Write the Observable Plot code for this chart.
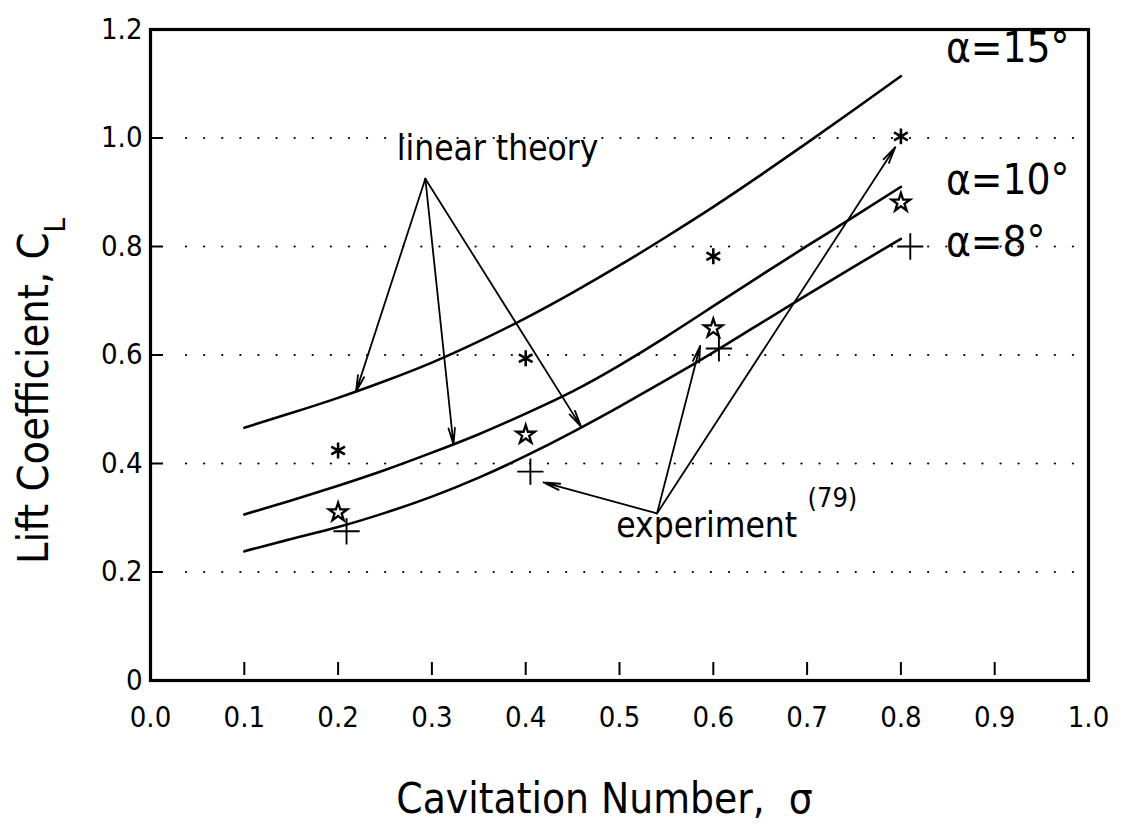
<!DOCTYPE html>
<html><head><meta charset="utf-8">
<script src="https://cdn.jsdelivr.net/npm/d3@7"></script>
<script src="https://cdn.jsdelivr.net/npm/@observablehq/plot@0.6"></script>
<style>
body{margin:0;background:#fff;}
#chart svg{display:block;}
</style>
</head><body><div id="chart"></div>
<script>
// ---- data ----
const sigma = [0.10,0.15,0.20,0.25,0.30,0.35,0.40,0.45,0.50,0.55,0.60,0.65,0.70,0.75,0.80];
const clAlpha15 = [0.466,0.493,0.521,0.552,0.586,0.625,0.668,0.715,0.765,0.818,0.873,0.931,0.991,1.052,1.114];
const clAlpha10 = [0.306,0.332,0.359,0.388,0.420,0.454,0.492,0.533,0.581,0.634,0.690,0.746,0.801,0.855,0.910];
const clAlpha8  = [0.238,0.261,0.283,0.309,0.339,0.374,0.414,0.458,0.505,0.554,0.605,0.658,0.711,0.763,0.814];
const seriesNames = ["α=15°","α=10°","α=8°"];

const expSigma15 = [0.20,0.40,0.60,0.80];
const expCl15    = [0.424,0.594,0.782,1.003];
const expSigma10 = [0.20,0.40,0.60,0.80];
const expCl10    = [0.310,0.453,0.649,0.881];
const expSigma8  = [0.209,0.405,0.606,0.810];
const expCl8     = [0.275,0.385,0.612,0.800];

const xTicks = [0,0.1,0.2,0.3,0.4,0.5,0.6,0.7,0.8,0.9,1.0];
const xTickLabels = ["0.0","0.1","0.2","0.3","0.4","0.5","0.6","0.7","0.8","0.9","1.0"];
const yTicks = [0,0.2,0.4,0.6,0.8,1.0,1.2];
const yTickLabels = ["0","0.2","0.4","0.6","0.8","1.0","1.2"];
const gridValues = [0.2,0.4,0.6,0.8,1.0];

const curveLabelSigma = [0.848,0.848,0.848];
const curveLabelCl = [1.165,0.922,0.808];

const theoryLabel = "linear theory";
const theoryLabelPos = [0.37,0.98];
const theoryFrom = [0.293,0.925];
const theoryToSigma = [0.219,0.323,0.459];
const theoryToCl = [0.532,0.435,0.468];

const expLabel = "experiment";
const expLabelPos = [0.593,0.285];
const expRefLabel = "(79)";
const expRefPos = [0.727,0.336];
const expFrom = [0.540,0.308];
const expToSigma = [0.419,0.586,0.794];
const expToCl = [0.365,0.617,0.983];

const xTitle = "Cavitation Number,  σ";
const yTitle = "Lift Coefficient, C";
const yTitleSub = "L";

// ---- tables ----
const curveRows = [clAlpha15, clAlpha10, clAlpha8].flatMap((arr, k) =>
  arr.map((v, i) => ({sigma: sigma[i], cl: v, series: seriesNames[k]})));
const mk = (xs, ys) => xs.map((x, i) => ({sigma: x, cl: ys[i]}));
const exp15 = mk(expSigma15, expCl15), exp10 = mk(expSigma10, expCl10), exp8 = mk(expSigma8, expCl8);
const theoryArrows = theoryToSigma.map((s, i) => ({x1: theoryFrom[0], y1: theoryFrom[1], x2: s, y2: theoryToCl[i]}));
const expArrows = expToSigma.map((s, i) => ({x1: expFrom[0], y1: expFrom[1], x2: s, y2: expToCl[i]}));
const curveLabelRows = seriesNames.map((n, i) => ({label: n, sigma: curveLabelSigma[i], cl: curveLabelCl[i]}));

const font = '"Liberation Sans Narrow","DejaVu Sans Condensed","Liberation Sans",sans-serif';

const chart = Plot.plot({
  width: 1126, height: 826,
  marginLeft: 150, marginRight: 38, marginTop: 29, marginBottom: 146,
  style: {fontFamily: font, color: "#000", background: "#fff", overflow: "visible"},
  x: {domain: [0, 1]},
  y: {domain: [0, 1.2]},
  marks: [
    Plot.gridY(gridValues, {stroke: "#000", strokeOpacity: 1, strokeWidth: 2.2, strokeDasharray: "0.1 18", strokeLinecap: "round", insetLeft: 36, insetRight: 14}),
    // tick labels
    Plot.axisX(xTicks, {tickSize: 0, tickPadding: 26, tickFormat: d => xTickLabels[xTicks.indexOf(d)], fontSize: 29, label: null}),
    Plot.axisY(yTicks, {tickSize: 0, tickPadding: 8, tickFormat: d => yTickLabels[yTicks.indexOf(d)], fontSize: 29, label: null}),
    // inward ticks
    Plot.axisX(xTicks.slice(1, -1), {tickSize: 13, dy: -18, strokeWidth: 2, tickFormat: () => "", label: null}),
    Plot.axisY(yTicks.slice(1, -1), {tickSize: 13, dx: 13, strokeWidth: 2, tickFormat: () => "", label: null}),
    Plot.frame({stroke: "#000", strokeWidth: 3.2}),
    // theory curves
    Plot.line(curveRows, {x: "sigma", y: "cl", z: "series", curve: "natural", stroke: "#000", strokeWidth: 2.6}),
    // arrows
    Plot.arrow(theoryArrows, {x1: "x1", y1: "y1", x2: "x2", y2: "y2", stroke: "#000", strokeWidth: 1.8, headLength: 14, headAngle: 22}),
    Plot.arrow(expArrows, {x1: "x1", y1: "y1", x2: "x2", y2: "y2", stroke: "#000", strokeWidth: 1.8, headLength: 14, headAngle: 22}),
    // experiment symbols
    Plot.dot(exp15, {x: "sigma", y: "cl", symbol: "asterisk", r: 7.5, stroke: "#000", strokeWidth: 2.6}),
    Plot.dot(exp10, {x: "sigma", y: "cl", symbol: "star", r: 5.8, fill: "none", stroke: "#000", strokeWidth: 2.3}),
    Plot.dot(exp8, {x: "sigma", y: "cl", symbol: "plus", r: 8.5, stroke: "#000", strokeWidth: 1.9}),
    // labels
    Plot.text(curveLabelRows, {x: "sigma", y: "cl", text: "label", textAnchor: "start", fontSize: 42, fill: "#000"}),
    Plot.text([theoryLabel], {x: () => theoryLabelPos[0], y: () => theoryLabelPos[1], text: d => d, fontSize: 35, fill: "#000"}),
    Plot.text([expLabel], {x: () => expLabelPos[0], y: () => expLabelPos[1], text: d => d, fontSize: 35, fill: "#000"}),
    Plot.text([expRefLabel], {x: () => expRefPos[0], y: () => expRefPos[1], text: d => d, fontSize: 27, fill: "#000"}),
    // axis titles
    Plot.text([xTitle], {frameAnchor: "bottom", textAnchor: "middle", dy: 132, dx: -15, text: d => d, fontSize: 42, fill: "#000"}),
    Plot.text([yTitle], {frameAnchor: "left", textAnchor: "middle", dx: -116, dy: 36, rotate: -90, text: d => d, fontSize: 43, fill: "#000"})
  ]
});

// subscript L on the y title
d3.select(chart).selectAll("text").filter(function() { return this.textContent === yTitle; })
  .each(function() {
    d3.select(this).append("tspan").attr("baseline-shift", "sub").attr("font-size", 29).text(yTitleSub);
  });

document.getElementById("chart").appendChild(chart);
</script>
</body></html>
